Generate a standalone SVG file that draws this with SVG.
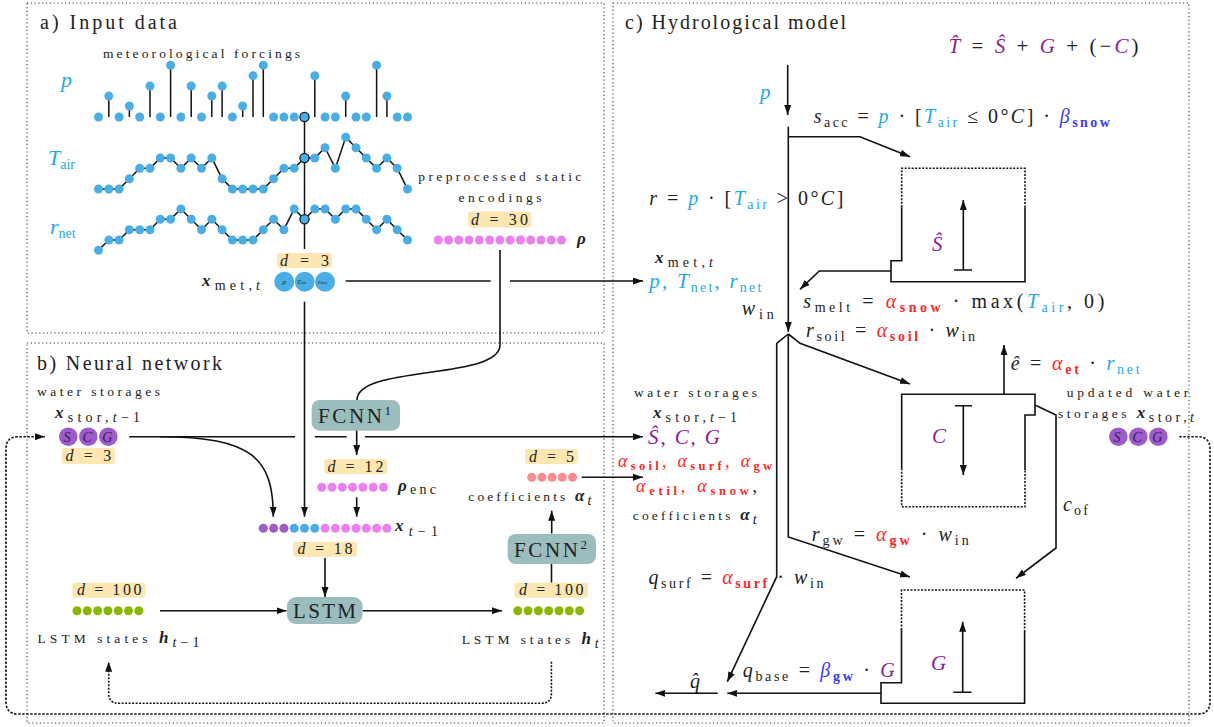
<svg xmlns="http://www.w3.org/2000/svg" width="1214" height="727" viewBox="0 0 1214 727">
<defs>
<style>
text{font-family:"Liberation Serif","DejaVu Serif",serif;fill:#222}
.ttl{font-size:20px}
.sm{font-size:13.5px}
.m{font-size:20px}
.i{font-style:italic}
.bi{font-style:italic;font-weight:bold}
.b{font-weight:bold}
.sb{font-size:14px;font-style:normal}
.cy{fill:#1ea9e8}
.rd{fill:#ff2626}
.bl{fill:#3a3aff}
.pu{fill:#8c1c98}
.ln{fill:none;stroke:#111;stroke-width:1.6}
.ser{fill:none;stroke:#111;stroke-width:1.5}
.arr{marker-end:url(#ah)}
.panel{fill:none;stroke:#333;stroke-width:1.1;stroke-dasharray:1.2 2.6}
.loop{fill:none;stroke:#111;stroke-width:1.6;stroke-dasharray:2.4 1.6}
.dsh{fill:none;stroke:#111;stroke-width:1.6;stroke-dasharray:2 1.5}
.dbox{fill:#fce6b2}
.dt{font-size:16px}
.nn{fill:#9cbdbd}
.cb{fill:#4aaee6}
.cp{fill:#9d5cc9}
.cpk{fill:#ec80f0}
.cg{fill:#8ab800}
.cs{fill:#f98c8c}
.hl{fill:#4aaee6;stroke:#1a1a1a;stroke-width:1.3}
.lt{font-style:italic;font-size:14px;fill:#3a1660}
</style>
<marker id="ah" viewBox="0 0 10 7" refX="10" refY="3.5" markerWidth="10" markerHeight="7" markerUnits="userSpaceOnUse" orient="auto">
<path d="M0,0 L10,3.5 L0,7 Z" fill="#111"/>
</marker>
</defs>

<!-- panels -->
<g id="panels">
<rect class="panel" x="27" y="3" width="577" height="330"/>
<rect class="panel" x="27" y="343" width="577" height="380"/>
<rect class="panel" x="613" y="3" width="576" height="720"/>
<text class="ttl" x="40" y="29" textLength="137">a) Input data</text>
<text class="ttl" x="37" y="370" textLength="185">b) Neural network</text>
<text class="ttl" x="625" y="29" textLength="221">c) Hydrological model</text>
</g>

<!-- input data -->
<g id="forcings">
<text class="sm" x="103" y="58" textLength="197">meteorological forcings</text>
<text class="i cy" x="61" y="87" font-size="22">p</text>
<text class="cy" x="48" y="165"><tspan class="i" font-size="22">T</tspan><tspan class="sb" dy="4" font-size="15">air</tspan></text>
<text class="cy" x="50" y="234"><tspan class="i" font-size="22">r</tspan><tspan class="sb" dy="4" font-size="15">net</tspan></text>
<path class="ser" d="M108.8,117V96 M129.4,117V106 M150,117V86 M170.6,117V65.3 M191.2,117V86 M211.8,117V96 M222.1,117V86 M242.7,117V106 M253,117V75.7 M263.3,117V65.3 M314.8,117V75.7 M345.7,117V96 M376.6,117V65.3 M386.9,117V96"/>
<polyline class="ser" points="98.5,189 108.8,189 119.1,189 129.4,178.7 139.7,168.3 150,168.3 160.3,158 170.6,158 180.9,168.3 191.2,158 201.5,168.3 211.8,158 222.1,178.7 232.4,189 242.7,189 253,189 263.3,189 273.6,178.7 283.9,168.3 294.2,168.3 304.5,158 314.8,158 325.1,147.7 335.4,168.3 345.7,137.3 356,147.7 366.3,158 376.6,168.3 386.9,158 397.2,168.3 407.5,189"/>
<polyline class="ser" points="98.5,250.3 108.8,240 119.1,240 129.4,229.7 139.7,229.7 150,229.7 160.3,219.3 170.6,219.3 180.9,209 191.2,219.3 201.5,229.7 211.8,219.3 222.1,229.7 232.4,240 242.7,240 253,240 263.3,229.7 273.6,219.3 283.9,229.7 294.2,209 304.5,219.3 314.8,209 325.1,209 335.4,219.3 345.7,209 356,209 366.3,219.3 376.6,229.7 386.9,219.3 397.2,229.7 407.5,240"/>
<path class="ser" d="M304.5,117V249"/>
<g class="cb">
<circle cx="98.5" cy="117" r="4.5"/><circle cx="108.8" cy="96" r="4.5"/><circle cx="119.1" cy="117" r="4.5"/><circle cx="129.4" cy="106" r="4.5"/><circle cx="139.7" cy="117" r="4.5"/><circle cx="150" cy="86" r="4.5"/><circle cx="160.3" cy="117" r="4.5"/><circle cx="170.6" cy="65.3" r="4.5"/><circle cx="180.9" cy="117" r="4.5"/><circle cx="191.2" cy="86" r="4.5"/><circle cx="201.5" cy="117" r="4.5"/><circle cx="211.8" cy="96" r="4.5"/><circle cx="222.1" cy="86" r="4.5"/><circle cx="232.4" cy="117" r="4.5"/><circle cx="242.7" cy="106" r="4.5"/><circle cx="253" cy="75.7" r="4.5"/><circle cx="263.3" cy="65.3" r="4.5"/><circle cx="273.6" cy="117" r="4.5"/><circle cx="283.9" cy="117" r="4.5"/><circle cx="294.2" cy="117" r="4.5"/><circle cx="314.8" cy="75.7" r="4.5"/><circle cx="325.1" cy="117" r="4.5"/><circle cx="335.4" cy="117" r="4.5"/><circle cx="345.7" cy="96" r="4.5"/><circle cx="356" cy="117" r="4.5"/><circle cx="366.3" cy="117" r="4.5"/><circle cx="376.6" cy="65.3" r="4.5"/><circle cx="386.9" cy="96" r="4.5"/><circle cx="397.2" cy="117" r="4.5"/><circle cx="407.5" cy="117" r="4.5"/>
<circle cx="98.5" cy="189" r="4.5"/><circle cx="108.8" cy="189" r="4.5"/><circle cx="119.1" cy="189" r="4.5"/><circle cx="129.4" cy="178.7" r="4.5"/><circle cx="139.7" cy="168.3" r="4.5"/><circle cx="150" cy="168.3" r="4.5"/><circle cx="160.3" cy="158" r="4.5"/><circle cx="170.6" cy="158" r="4.5"/><circle cx="180.9" cy="168.3" r="4.5"/><circle cx="191.2" cy="158" r="4.5"/><circle cx="201.5" cy="168.3" r="4.5"/><circle cx="211.8" cy="158" r="4.5"/><circle cx="222.1" cy="178.7" r="4.5"/><circle cx="232.4" cy="189" r="4.5"/><circle cx="242.7" cy="189" r="4.5"/><circle cx="253" cy="189" r="4.5"/><circle cx="263.3" cy="189" r="4.5"/><circle cx="273.6" cy="178.7" r="4.5"/><circle cx="283.9" cy="168.3" r="4.5"/><circle cx="294.2" cy="168.3" r="4.5"/><circle cx="314.8" cy="158" r="4.5"/><circle cx="325.1" cy="147.7" r="4.5"/><circle cx="335.4" cy="168.3" r="4.5"/><circle cx="345.7" cy="137.3" r="4.5"/><circle cx="356" cy="147.7" r="4.5"/><circle cx="366.3" cy="158" r="4.5"/><circle cx="376.6" cy="168.3" r="4.5"/><circle cx="386.9" cy="158" r="4.5"/><circle cx="397.2" cy="168.3" r="4.5"/><circle cx="407.5" cy="189" r="4.5"/>
<circle cx="98.5" cy="250.3" r="4.5"/><circle cx="108.8" cy="240" r="4.5"/><circle cx="119.1" cy="240" r="4.5"/><circle cx="129.4" cy="229.7" r="4.5"/><circle cx="139.7" cy="229.7" r="4.5"/><circle cx="150" cy="229.7" r="4.5"/><circle cx="160.3" cy="219.3" r="4.5"/><circle cx="170.6" cy="219.3" r="4.5"/><circle cx="180.9" cy="209" r="4.5"/><circle cx="191.2" cy="219.3" r="4.5"/><circle cx="201.5" cy="229.7" r="4.5"/><circle cx="211.8" cy="219.3" r="4.5"/><circle cx="222.1" cy="229.7" r="4.5"/><circle cx="232.4" cy="240" r="4.5"/><circle cx="242.7" cy="240" r="4.5"/><circle cx="253" cy="240" r="4.5"/><circle cx="263.3" cy="229.7" r="4.5"/><circle cx="273.6" cy="219.3" r="4.5"/><circle cx="283.9" cy="229.7" r="4.5"/><circle cx="294.2" cy="209" r="4.5"/><circle cx="314.8" cy="209" r="4.5"/><circle cx="325.1" cy="209" r="4.5"/><circle cx="335.4" cy="219.3" r="4.5"/><circle cx="345.7" cy="209" r="4.5"/><circle cx="356" cy="209" r="4.5"/><circle cx="366.3" cy="219.3" r="4.5"/><circle cx="376.6" cy="229.7" r="4.5"/><circle cx="386.9" cy="219.3" r="4.5"/><circle cx="397.2" cy="229.7" r="4.5"/><circle cx="407.5" cy="240" r="4.5"/>
</g>
<circle class="hl" cx="304.5" cy="117" r="4.6"/>
<circle class="hl" cx="304.5" cy="158" r="4.6"/>
<circle class="hl" cx="304.5" cy="219.3" r="4.6"/>
</g>

<g id="static">
<text class="sm" x="418.3" y="181" textLength="163">preprocessed static</text>
<text class="sm" x="458.5" y="202" textLength="83">encodings</text>
<rect class="dbox" x="468" y="211.5" width="63" height="16" rx="3"/>
<text class="dt" x="471" y="224.5" textLength="57"><tspan class="i">d</tspan> = 30</text>
<g class="cpk">
<circle cx="438.3" cy="240" r="4.5"/><circle cx="448.6" cy="240" r="4.5"/><circle cx="458.8" cy="240" r="4.5"/><circle cx="469.1" cy="240" r="4.5"/><circle cx="479.4" cy="240" r="4.5"/><circle cx="489.7" cy="240" r="4.5"/><circle cx="499.9" cy="240" r="4.5"/><circle cx="510.2" cy="240" r="4.5"/><circle cx="520.5" cy="240" r="4.5"/><circle cx="530.7" cy="240" r="4.5"/><circle cx="541" cy="240" r="4.5"/><circle cx="551.3" cy="240" r="4.5"/><circle cx="561.5" cy="240" r="4.5"/>
</g>
<text class="bi" x="577" y="244" font-size="17">ρ</text>
</g>

<g id="xmet">
<rect class="dbox" x="277" y="253" width="55" height="15" rx="3"/>
<text class="dt" x="280" y="265.5" textLength="49"><tspan class="i">d</tspan> = 3</text>
<circle class="cb" cx="284.3" cy="281.7" r="10"/>
<circle class="cb" cx="304.7" cy="281.7" r="10"/>
<circle class="cb" cx="325" cy="281.7" r="10"/>
<text x="282.5" y="284" font-size="7" class="i">p</text>
<text x="297" y="284" font-size="7"><tspan class="i">T</tspan><tspan font-size="5">air</tspan></text>
<text x="318" y="284" font-size="7"><tspan class="i">r</tspan><tspan font-size="5">net</tspan></text>
<text x="202" y="286" textLength="58"><tspan class="bi" font-size="17">x</tspan><tspan class="sb" dy="4">met,</tspan><tspan class="i" font-size="14">t</tspan></text>
</g>

<!-- neural network -->
<g id="stor-in">
<text class="sm" x="37" y="396" textLength="123">water storages</text>
<text x="55" y="418" textLength="85"><tspan class="bi" font-size="17">x</tspan><tspan class="sb" dy="4">stor,</tspan><tspan class="i" font-size="14">t</tspan><tspan font-size="14">−1</tspan></text>
<circle class="cp" cx="68.3" cy="436.7" r="9.3"/>
<circle class="cp" cx="88.3" cy="436.7" r="9.3"/>
<circle class="cp" cx="108.3" cy="436.7" r="9.3"/>
<text class="lt" x="63.5" y="441.5">S</text>
<text class="lt" x="82.5" y="441.5">C</text>
<text class="lt" x="102.3" y="441.5">G</text>
<rect class="dbox" x="61.7" y="448" width="53.3" height="16" rx="3"/>
<text class="dt" x="65.5" y="461" textLength="45.7"><tspan class="i">d</tspan> = 3</text>
</g>

<g id="fcnn1">
<rect class="nn" x="311.7" y="400" width="88.3" height="30.7" rx="8"/>
<text x="318" y="423" font-size="21" textLength="73">FCNN<tspan font-size="13" dy="-8">1</tspan></text>
</g>

<g id="rhoenc">
<rect class="dbox" x="324.3" y="459" width="63" height="15" rx="3"/>
<text class="dt" x="327.5" y="471.5" textLength="56"><tspan class="i">d</tspan> = 12</text>
<g class="cpk">
<circle cx="321.7" cy="487.3" r="4.5"/><circle cx="332" cy="487.3" r="4.5"/><circle cx="342.3" cy="487.3" r="4.5"/><circle cx="352.6" cy="487.3" r="4.5"/><circle cx="362.9" cy="487.3" r="4.5"/><circle cx="373.2" cy="487.3" r="4.5"/><circle cx="383.5" cy="487.3" r="4.5"/>
</g>
<text x="398" y="491" textLength="38"><tspan class="bi" font-size="17">ρ</tspan><tspan class="sb" dy="3">enc</tspan></text>
</g>

<g id="xt1">
<circle class="cp" cx="263.3" cy="528.3" r="4.5"/><circle class="cp" cx="273.6" cy="528.3" r="4.5"/><circle class="cp" cx="283.9" cy="528.3" r="4.5"/>
<circle class="cb" cx="294.2" cy="528.3" r="4.5"/><circle class="cb" cx="304.5" cy="528.3" r="4.5"/><circle class="cb" cx="314.8" cy="528.3" r="4.5"/>
<g class="cpk"><circle cx="325.1" cy="528.3" r="4.5"/><circle cx="335.4" cy="528.3" r="4.5"/><circle cx="345.7" cy="528.3" r="4.5"/><circle cx="356" cy="528.3" r="4.5"/><circle cx="366.3" cy="528.3" r="4.5"/><circle cx="376.6" cy="528.3" r="4.5"/><circle cx="386.9" cy="528.3" r="4.5"/></g>
<text x="395" y="531" textLength="43"><tspan class="bi" font-size="17">x</tspan><tspan class="i" font-size="14" dy="5">t</tspan><tspan font-size="14">−1</tspan></text>
<rect class="dbox" x="293" y="541.7" width="64" height="15" rx="3"/>
<text class="dt" x="297.5" y="554" textLength="55"><tspan class="i">d</tspan> = 18</text>
</g>

<g id="lstm">
<rect class="nn" x="287" y="597" width="75.5" height="27" rx="9"/>
<text x="293" y="618" font-size="21" textLength="63">LSTM</text>
</g>

<g id="hprev">
<rect class="dbox" x="72.3" y="582.7" width="73" height="15" rx="3"/>
<text class="dt" x="77" y="595" textLength="64.5"><tspan class="i">d</tspan> = 100</text>
<g class="cg"><circle cx="77" cy="610.7" r="4.5"/><circle cx="87.3" cy="610.7" r="4.5"/><circle cx="97.6" cy="610.7" r="4.5"/><circle cx="107.9" cy="610.7" r="4.5"/><circle cx="118.2" cy="610.7" r="4.5"/><circle cx="128.5" cy="610.7" r="4.5"/><circle cx="138.8" cy="610.7" r="4.5"/></g>
<text x="37.5" y="643" textLength="162"><tspan class="sm">LSTM states </tspan><tspan class="bi" font-size="17">h</tspan><tspan class="i" font-size="14" dy="4">t</tspan><tspan font-size="14">−1</tspan></text>
</g>

<g id="hcur">
<rect class="dbox" x="514.6" y="582.7" width="73.4" height="15" rx="3"/>
<text class="dt" x="519" y="595" textLength="64.5"><tspan class="i">d</tspan> = 100</text>
<g class="cg"><circle cx="517.8" cy="610.7" r="4.5"/><circle cx="528.1" cy="610.7" r="4.5"/><circle cx="538.4" cy="610.7" r="4.5"/><circle cx="548.7" cy="610.7" r="4.5"/><circle cx="559" cy="610.7" r="4.5"/><circle cx="569.3" cy="610.7" r="4.5"/><circle cx="579.6" cy="610.7" r="4.5"/></g>
<text x="461.7" y="644" textLength="137"><tspan class="sm">LSTM states </tspan><tspan class="bi" font-size="17">h</tspan><tspan class="i" font-size="14" dy="4">t</tspan></text>
</g>

<g id="fcnn2">
<rect class="nn" x="507.7" y="534" width="88.3" height="30" rx="8"/>
<text x="514" y="557" font-size="21" textLength="73">FCNN<tspan font-size="13" dy="-8">2</tspan></text>
</g>

<g id="alpha">
<rect class="dbox" x="525" y="449" width="52.7" height="15" rx="3"/>
<text class="dt" x="529" y="461.5" textLength="45"><tspan class="i">d</tspan> = 5</text>
<g class="cs"><circle cx="531.7" cy="477.3" r="4.5"/><circle cx="541.9" cy="477.3" r="4.5"/><circle cx="552.1" cy="477.3" r="4.5"/><circle cx="562.3" cy="477.3" r="4.5"/><circle cx="572.5" cy="477.3" r="4.5"/></g>
<text x="468.3" y="501" textLength="123"><tspan class="sm">coefficients </tspan><tspan class="bi" font-size="17">α</tspan><tspan class="i" font-size="14" dy="4">t</tspan></text>
</g>

<!-- hydrological model -->
<g id="storage-S">
<path class="dsh" d="M901.7,207.3V168.3H1025V207.3"/>
<path class="ln" d="M901.7,207.3V260.7H891V281.7H1025V207.3"/>
<path class="ln" d="M954,270H972 M963.3,270V200" marker-end="url(#ah)"/>
<text class="i pu" x="932" y="251" font-size="21">Ŝ</text>
</g>

<g id="storage-C">
<path class="ln" d="M901.7,468.3V394.3H1035V415H1025V470"/>
<path class="dsh" d="M901.7,468.3V506.7H1025V470"/>
<path class="ln" d="M955,405.7H972 M963.3,405.7V475" marker-end="url(#ah)"/>
<text class="i pu" x="932" y="443" font-size="21">C</text>
</g>

<g id="storage-G">
<path class="dsh" d="M901.5,630V590H1024.6V630"/>
<path class="ln" d="M901.5,630V682.7H881V703.3H1024.6V630"/>
<path class="ln" d="M953.5,692.3H971.5 M962.7,692.3V621.7" marker-end="url(#ah)"/>
<text class="i pu" x="931" y="670" font-size="21">G</text>
</g>

<g id="stor-out">
<text class="sm" x="1066.7" y="397" textLength="121.6">updated water</text>
<text x="1058" y="418" textLength="136"><tspan class="sm">storages </tspan><tspan class="bi" font-size="17">x</tspan><tspan class="sb" dy="4">stor,</tspan><tspan class="i" font-size="14">t</tspan></text>
<circle class="cp" cx="1118.3" cy="436.7" r="9.3"/>
<circle class="cp" cx="1138.3" cy="436.7" r="9.3"/>
<circle class="cp" cx="1158.3" cy="436.7" r="9.3"/>
<text class="lt" x="1113.5" y="441.5">S</text>
<text class="lt" x="1132.5" y="441.5">C</text>
<text class="lt" x="1152.3" y="441.5">G</text>
</g>

<g id="labels-c">
<text x="948.5" y="53" font-size="21" textLength="190"><tspan class="i pu">T̂</tspan> = <tspan class="i pu">Ŝ</tspan> + <tspan class="i pu">G</tspan> + (−<tspan class="i pu">C</tspan>)</text>
<text class="i cy" x="760" y="99" font-size="21">p</text>
<text class="m" x="813.8" y="123" textLength="296"><tspan class="i">s</tspan><tspan class="sb" dy="4">acc</tspan><tspan dy="-4"> = </tspan><tspan class="i cy">p</tspan><tspan> · [</tspan><tspan class="i cy">T</tspan><tspan class="sb cy" dy="4">air</tspan><tspan dy="-4"> ≤ 0°</tspan><tspan class="i">C</tspan><tspan>] · </tspan><tspan class="i bl">β</tspan><tspan class="sb bl b" dy="4">snow</tspan></text>
<text class="m" x="649.3" y="205" textLength="194"><tspan class="i">r</tspan> = <tspan class="i cy">p</tspan> · [<tspan class="i cy">T</tspan><tspan class="sb cy" dy="4">air</tspan><tspan dy="-4"> &gt; 0°</tspan><tspan class="i">C</tspan>]</text>
<text x="655" y="263" textLength="58"><tspan class="bi" font-size="17">x</tspan><tspan class="sb" dy="4">met,</tspan><tspan class="i" font-size="14">t</tspan></text>
<text class="cy" x="649.3" y="288" font-size="21" textLength="112"><tspan class="i">p</tspan>, <tspan class="i">T</tspan><tspan class="sb" dy="4">net</tspan><tspan dy="-4">, </tspan><tspan class="i">r</tspan><tspan class="sb" dy="4">net</tspan></text>
<text class="m" x="741.7" y="315" textLength="32"><tspan class="i">w</tspan><tspan class="sb" dy="4">in</tspan></text>
<text class="m" x="803.3" y="308" textLength="301"><tspan class="i">s</tspan><tspan class="sb" dy="4">melt</tspan><tspan dy="-4"> = </tspan><tspan class="i rd">α</tspan><tspan class="sb rd b" dy="4">snow</tspan><tspan dy="-4"> · max(</tspan><tspan class="i cy">T</tspan><tspan class="sb cy" dy="4">air</tspan><tspan dy="-4">, 0)</tspan></text>
<text class="m" x="806" y="337" textLength="169"><tspan class="i">r</tspan><tspan class="sb" dy="4">soil</tspan><tspan dy="-4"> = </tspan><tspan class="i rd">α</tspan><tspan class="sb rd b" dy="4">soil</tspan><tspan dy="-4"> · </tspan><tspan class="i">w</tspan><tspan class="sb" dy="4">in</tspan></text>
<text class="m" x="1010.7" y="370" textLength="129"><tspan class="i">ê</tspan> = <tspan class="i rd">α</tspan><tspan class="sb rd b" dy="4">et</tspan><tspan dy="-4"> · </tspan><tspan class="i cy">r</tspan><tspan class="sb cy" dy="4">net</tspan></text>
<text class="sm" x="634" y="397" textLength="123">water storages</text>
<text x="653" y="418" textLength="84"><tspan class="bi" font-size="17">x</tspan><tspan class="sb" dy="4">stor,</tspan><tspan class="i" font-size="14">t</tspan><tspan font-size="14">−1</tspan></text>
<text class="pu" x="648" y="444" font-size="21" textLength="72"><tspan class="i">Ŝ</tspan>, <tspan class="i">C</tspan>, <tspan class="i">G</tspan></text>
<text class="rd" x="618" y="467" font-size="18" textLength="154"><tspan class="i">α</tspan><tspan class="b" font-size="12.5" dy="3">soil</tspan><tspan dy="-3">, </tspan><tspan class="i">α</tspan><tspan class="b" font-size="12.5" dy="3">surf</tspan><tspan dy="-3">, </tspan><tspan class="i">α</tspan><tspan class="b" font-size="12.5" dy="3">gw</tspan></text>
<text class="rd" x="636" y="492" font-size="18" textLength="121"><tspan class="i">α</tspan><tspan class="b" font-size="12.5" dy="3">etil</tspan><tspan dy="-3">, </tspan><tspan class="i">α</tspan><tspan class="b" font-size="12.5" dy="3">snow</tspan><tspan dy="-3" fill="#222">,</tspan></text>
<text x="632.7" y="520" textLength="124"><tspan class="sm">coefficients </tspan><tspan class="bi" font-size="17">α</tspan><tspan class="i" font-size="14" dy="4">t</tspan></text>
<text class="m" x="1063" y="511" textLength="25"><tspan class="i">c</tspan><tspan class="sb" dy="4">of</tspan></text>
<text class="m" x="811.7" y="541" textLength="157"><tspan class="i">r</tspan><tspan class="sb" dy="4">gw</tspan><tspan dy="-4"> = </tspan><tspan class="i rd">α</tspan><tspan class="sb rd b" dy="4">gw</tspan><tspan dy="-4"> · </tspan><tspan class="i">w</tspan><tspan class="sb" dy="4">in</tspan></text>
<text class="m" x="648.5" y="584" textLength="175"><tspan class="i">q</tspan><tspan class="sb" dy="4">surf</tspan><tspan dy="-4"> = </tspan><tspan class="i rd">α</tspan><tspan class="sb rd b" dy="4">surf</tspan><tspan dy="-4"> · </tspan><tspan class="i">w</tspan><tspan class="sb" dy="4">in</tspan></text>
<text class="m" x="742.7" y="677" textLength="152"><tspan class="i">q</tspan><tspan class="sb" dy="4">base</tspan><tspan dy="-4"> = </tspan><tspan class="i bl">β</tspan><tspan class="sb bl b" dy="4">gw</tspan><tspan dy="-4"> · </tspan><tspan class="i pu">G</tspan></text>
<text class="m i" x="690" y="688">q̂</text>
</g>

<!-- connectors -->
<g id="connectors">
<path class="ln" d="M345.7,281H490.7"/>
<path class="ln arr" d="M510,281H643"/>
<path class="ln arr" d="M304.5,301.7V516.7"/>
<path class="ln" d="M500,250V345C500,380 357,365 357,400"/>
<path class="ln" d="M129.3,436.7H295 M315,436.7H346.7"/>
<path class="ln arr" d="M365,436.7H643"/>
<path class="ln arr" d="M160,436.7C252,436.7 273.3,458 273.3,516.7"/>
<path class="ln arr" d="M356.7,430.7V455"/>
<path class="ln arr" d="M356.7,497.3V516.7"/>
<path class="ln arr" d="M325,558V597"/>
<path class="ln arr" d="M160,610.7H286.5"/>
<path class="ln arr" d="M362.8,610.7H502"/>
<path class="ln" d="M551.5,564V582.5"/>
<path class="ln arr" d="M551.7,533.5V510.7"/>
<path class="ln arr" d="M581.7,477.3H643"/>
<path class="dsh arr" d="M551.4,661.7V693.3Q551.4,703.3 541.4,703.3H118.7Q108.7,703.3 108.7,693.3V661.7"/>
<path class="loop arr" d="M1179.3,436.7H1198Q1210,436.7 1210,449V702Q1210,714 1198,714H18Q6,714 6,702V449Q6,436.7 18,436.7H45"/>
<path class="ln arr" d="M787.7,65V115"/>
<path class="ln arr" d="M788.3,126.7V332"/>
<path class="ln arr" d="M788.3,136.7H860L910,156.7"/>
<path class="ln arr" d="M891,271H819.3L800,289.3"/>
<path class="ln arr" d="M788.3,334L800,343.3L910,384"/>
<path class="ln arr" d="M788.3,334V537L910,577"/>
<path class="ln arr" d="M788.3,334L776.7,343.3V576.7L727.3,681.7"/>
<path class="ln arr" d="M1004,395V345"/>
<path class="ln arr" d="M1035,405L1056,415V548L1016,578.3"/>
<path class="ln arr" d="M881,693.3H727.3"/>
<path class="ln arr" d="M717.7,693.3H655.4"/>
</g>
</svg>
